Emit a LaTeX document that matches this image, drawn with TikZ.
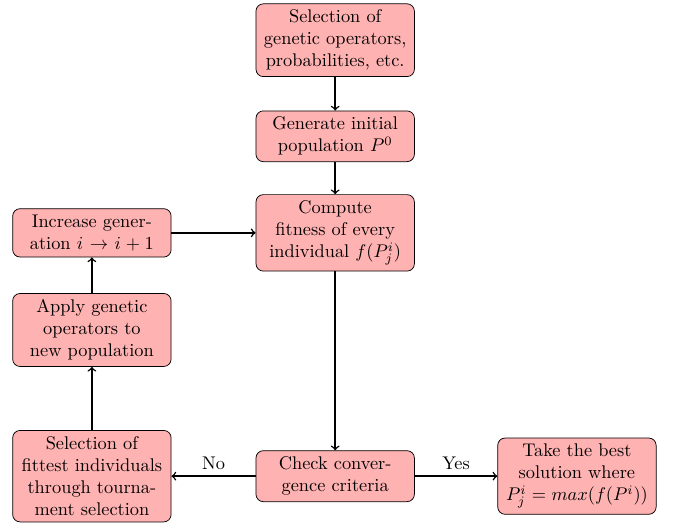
\documentclass[tikz,border=0pt]{standalone}
\usepackage{tikz}

\begin{document}
\begin{tikzpicture}[block/.style={draw=black,fill=red!30,rounded corners,text width=2.8cm,align=center},
	flow/.style={thick,->}]
\pgfmathsetmacro{\colleft}{1.76}
\pgfmathsetmacro{\colmid}{6.42}
\pgfmathsetmacro{\colright}{11.05}
\useasboundingbox (0,0) rectangle (12.89,-10.06);

\node[block] (choose) at (\colmid, -0.77) {Selection of genetic operators, probabilities, etc.};
\node[block] (init) at (\colmid, -2.61) {Generate initial population $P^0$};
\node[block] (fitness) at (\colmid, -4.46) {Compute fitness of every individual $f(P^i_j)$};
\node[block] (check) at (\colmid, -9.12) {Check convergence criteria};
\node[block] (best) at (\colright, -9.12) {Take the best solution where $P^i_j = max(f(P^i))$};
\node[block] (select) at (\colleft, -9.12) {Selection of fittest individuals through tournament selection};
\node[block] (apply) at (\colleft, -6.32) {Apply genetic operators to new population};
\node[block] (incr) at (\colleft, -4.46) {Increase generation $i \rightarrow i+1$};

\draw[flow] (choose) -- (init);
\draw[flow] (init) -- (fitness);
\draw[flow] (fitness) -- (check);
\draw[flow] (check) -- node[above] {Yes} (best);
\draw[flow] (check) -- node[above] {No} (select);
\draw[flow] (select) -- (apply);
\draw[flow] (apply) -- (incr);
\draw[flow] (incr) -- (fitness);

\end{tikzpicture}
\end{document}
